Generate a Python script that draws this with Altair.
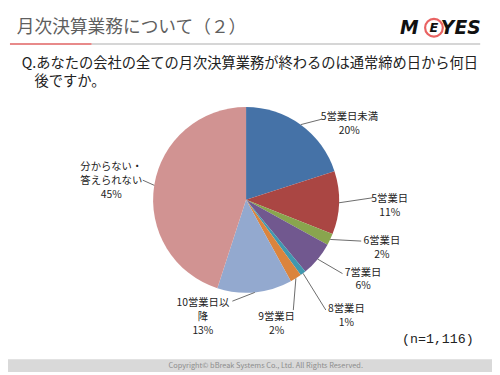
import altair as alt
import pandas as pd

# ---- data ----
categories = ["5営業日未満", "5営業日", "6営業日", "7営業日", "8営業日", "9営業日", "10営業日以降", "分からない・答えられない"]
display_names = ["5営業日未満", "5営業日", "6営業日", "7営業日", "8営業日", "9営業日", "10営業日以\n降", "分からない・\n答えられない"]
values = [20, 11, 2, 6, 1, 2, 13, 45]
colors = ["#4572A7", "#AA4643", "#89A54E", "#71588F", "#4198AF", "#DB843D", "#93A9CF", "#D19392"]

# ---- layout (label placement, polar around pie centre: degrees clockwise from 12 o'clock, px) ----
label_angle = [51.3, 89.6, 106.9, 121.9, 137.4, 165.4, 202.7, 283.5]
label_radius = [134.5, 146.0, 144.3, 140.1, 150.7, 123.0, 113.8, 140.9]
leader_end_angle = [43.2, 89.1, 109.7, 127.4, 144.1, 156.8, 187.7, 280.8]
leader_end_radius = [112.5, 128.0, 124.3, 123.4, 138.2, 121.9, 103.9, 106.9]

FONT = "Noto Sans CJK JP"
CX, CY, R = 242, 192, 94.5  # chart coords (page minus 8px margin)
W, H = 492, 367

df = pd.DataFrame({
    "cat": categories,
    "label": [f"{d}\n{v}%" for d, v in zip(display_names, values)],
    "value": values,
    "idx": list(range(len(values))),
    "la": label_angle,
    "lr": label_radius,
    "ea": leader_end_angle,
    "er": leader_end_radius,
})

base = alt.Chart(df)

pie = base.mark_arc(outerRadius=R).encode(
    theta=alt.Theta("value:Q", stack=True),
    color=alt.Color("cat:N", scale=alt.Scale(domain=categories, range=colors), legend=None),
    order=alt.Order("idx:Q"),
    x=alt.value(CX),
    y=alt.value(CY),
)

geo = base.transform_joinaggregate(total="sum(value)").transform_window(
    cum="sum(value)", sort=[alt.SortField("idx")]
).transform_calculate(
    mid="(datum.cum - datum.value / 2) / datum.total * 2 * PI",
    sx=f"{CX} + {R} * sin(datum.mid)",
    sy=f"{CY} - {R} * cos(datum.mid)",
    ex=f"{CX} + datum.er * sin(datum.ea * PI / 180)",
    ey=f"{CY} - datum.er * cos(datum.ea * PI / 180)",
    lx=f"{CX} + datum.lr * sin(datum.la * PI / 180)",
    ly=f"{CY} - datum.lr * cos(datum.la * PI / 180)",
)

leaders = geo.mark_rule(color="#6a6a6a", strokeWidth=1).encode(
    x=alt.X("sx:Q", scale=None, axis=None),
    y=alt.Y("sy:Q", scale=None, axis=None),
    x2="ex:Q",
    y2="ey:Q",
)

labels = geo.mark_text(
    lineBreak="\n", font=FONT, fontSize=10.5, lineHeight=14, color="#222222",
    align="center", baseline="middle",
).encode(
    x=alt.X("lx:Q", scale=None, axis=None),
    y=alt.Y("ly:Q", scale=None, axis=None),
    text="label:N",
)

one = alt.Chart(pd.DataFrame({"a": [0]}))

footer_band = one.mark_rect(color="#d9d9d9").encode(
    x=alt.value(0), x2=alt.value(W), y=alt.value(354), y2=alt.value(H)
)
footer_text = one.mark_text(
    text="Copyright©  bBreak Systems Co., Ltd.  All Rights Reserved.",
    font=FONT, fontSize=7.5, color="#8c8c8c", align="center", baseline="middle",
).encode(x=alt.value(262), y=alt.value(361))

title = one.mark_text(
    text="月次決算業務について（２）", font=FONT, fontSize=18, color="#5f5f5f",
    align="left", baseline="middle",
).encode(x=alt.value(9), y=alt.value(17))

line_gray = one.mark_rule(color="#c8c8c8", strokeWidth=1.5).encode(
    x=alt.value(85), x2=alt.value(480), y=alt.value(33.5)
)
line_red = one.mark_rule(color="#e88a8a", strokeWidth=2).encode(
    x=alt.value(2), x2=alt.value(85), y=alt.value(33.5)
)

logo_m = one.mark_text(
    text="M", font="DejaVu Sans", fontSize=19, fontWeight="bold", fontStyle="italic",
    color="#111111", align="center", baseline="middle",
).encode(x=alt.value(408), y=alt.value(17))
logo_ring = one.mark_point(shape="circle", filled=False, stroke="#e02020", strokeWidth=2.2, size=324).encode(
    x=alt.value(433), y=alt.value(17)
)
logo_e = one.mark_text(
    text="E", font="DejaVu Sans", fontSize=13, fontWeight="bold", fontStyle="italic",
    color="#111111", align="center", baseline="middle",
).encode(x=alt.value(433), y=alt.value(17))
logo_yes = one.mark_text(
    text="YES", font="DejaVu Sans", fontSize=19, fontWeight="bold", fontStyle="italic",
    color="#111111", align="left", baseline="middle",
).encode(x=alt.value(440), y=alt.value(17))

q1 = one.mark_text(
    text="Q.あなたの会社の全ての月次決算業務が終わるのは通常締め日から何日",
    font=FONT, fontSize=14.5, color="#222222", align="left", baseline="middle",
).encode(x=alt.value(14), y=alt.value(54))
q2 = one.mark_text(
    text="後ですか。", font=FONT, fontSize=14.5, color="#222222", align="left", baseline="middle",
).encode(x=alt.value(27), y=alt.value(72))

n_text = one.mark_text(
    text="(n=1,116)", font="Liberation Mono", fontSize=13.5, color="#222222", align="center", baseline="middle",
).encode(x=alt.value(437), y=alt.value(334))

chart = alt.layer(
    footer_band, footer_text, line_gray, line_red, title,
    logo_ring, logo_m, logo_e, logo_yes, q1, q2, n_text,
    pie, leaders, labels,
).properties(
    width=W, height=H, padding=0, autosize=alt.AutoSizeParams(type="none"),
).configure_view(stroke=None)

chart.save("out.html", embed_options={"renderer": "svg", "actions": False})
